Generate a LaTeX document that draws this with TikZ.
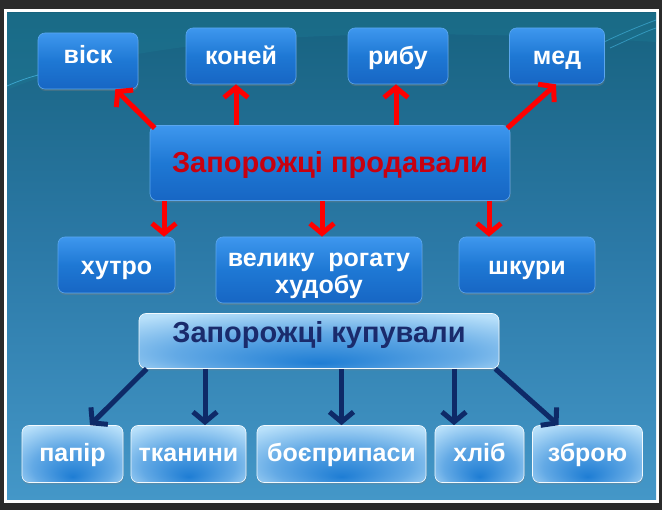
\documentclass[tikz,border=0pt]{standalone}
\usepackage{fontspec}
\setmainfont{Liberation Sans}
\usetikzlibrary{arrows.meta,shadows,positioning}

\definecolor{framegray}{HTML}{2B2B2B}
\definecolor{bgtop}{HTML}{17627F}
\definecolor{bgmid}{HTML}{2C7AA8}
\definecolor{bgbot}{HTML}{4497C8}
\definecolor{bgteal}{HTML}{1F8098}
\definecolor{boxtop}{HTML}{3E97EE}
\definecolor{boxmid}{HTML}{1E78D4}
\definecolor{boxbot}{HTML}{1766C4}
\definecolor{boxedge}{HTML}{5AA6EE}
\definecolor{lightmid}{HTML}{1E7DD4}
\definecolor{lightedge}{HTML}{B8E0FA}
\definecolor{sellred}{HTML}{FF0000}
\definecolor{selltext}{HTML}{C8000F}
\definecolor{buynavy}{HTML}{0E2A68}
\definecolor{buytext}{HTML}{1A2B6C}

% light boxes: dark spot low in the middle
\pgfdeclareradialshading{lightshade}{\pgfpoint{0bp}{-20bp}}{%
  color(0bp)=(lightmid); color(20bp)=(lightmid!55!lightedge);
  color(36bp)=(lightedge); color(50bp)=(lightedge)}

\begin{document}
\begin{tikzpicture}[x=1pt,y=-1pt,
    darkbox/.style={rectangle,rounded corners=7pt,draw=boxedge,line width=0.6pt,
      top color=boxtop,bottom color=boxbot,middle color=boxmid,
      drop shadow={shadow xshift=0.5pt,shadow yshift=-2pt,opacity=0.35},
      text=white,font=\bfseries\fontsize{25}{26}\selectfont,
      text height=21pt,text depth=3pt},
    lightbox/.style={rectangle,rounded corners=7pt,draw=white!85!lightedge,line width=0.6pt,
      shading=lightshade,
      drop shadow={shadow xshift=0.5pt,shadow yshift=-2pt,opacity=0.3},
      text=white,font=\bfseries\fontsize{25}{26}\selectfont,
      text height=20pt,text depth=4pt},
    sellarrow/.style={color=sellred,line width=5pt,-{Straight Barb[length=10pt,width=24pt]}},
    buyarrow/.style={color=buynavy,line width=5pt,-{Straight Barb[length=10pt,width=24pt]}}]

    \useasboundingbox (0,0) rectangle (662,510);
    % screen frame and slide background
    \fill[framegray] (0,0) rectangle (662,510);
    \fill[white] (4,9) rectangle (659,503);
    \shade[top color=bgtop,bottom color=bgbot,middle color=bgmid] (7,13) rectangle (656,500);
    \fill[bgteal,opacity=0.3] (7,13) -- (7,90) .. controls (120,42) and (320,22) .. (656,42) -- (656,13) -- cycle;
    \draw[cyan!70!white,opacity=0.6,line width=0.8pt] (7,86) .. controls (25,78) and (40,74) .. (60,70);
    \draw[cyan!70!white,opacity=0.5,line width=0.8pt] (600,44) .. controls (620,34) and (640,26) .. (656,20);
    \draw[cyan!70!white,opacity=0.5,line width=0.8pt] (610,48) .. controls (628,40) and (644,32) .. (656,28);

    % what they sold
    \node [darkbox, minimum width=100, minimum height=56, text depth=15pt](1) at (88,61){віск};
    \node [darkbox, minimum width=110, minimum height=56](2) at (241,56){коней};
    \node [darkbox, minimum width=100, minimum height=56](3) [right of=2, node distance=157pt]{рибу};
    \node [darkbox, minimum width=95, minimum height=56](4) [right of=3, node distance=159pt]{мед};

    \node [darkbox, minimum width=360, minimum height=75, text=selltext,
      font=\bfseries\fontsize{29}{33}\selectfont, text height=24pt, text depth=4pt](5) at (330,163){Запорожці продавали};

    \node [darkbox, minimum width=117, minimum height=56, text height=22pt, text depth=2pt](6) at (116.5,265){хутро};
    \node [darkbox, minimum width=206, minimum height=66, text height=32pt, text depth=10pt](7) at (319,270)
      {\begin{tabular}{@{}c@{}}велику\ \ рогату\\худобу\end{tabular}};
    \node [darkbox, minimum width=136, minimum height=56, text height=22pt, text depth=2pt](8) at (527,265){шкури};

    % what they bought
    \node [lightbox, minimum width=360, minimum height=55, text=buytext,
      font=\bfseries\fontsize{29}{33}\selectfont, text height=24pt, text depth=20pt](9) at (319,341){Запорожці купували};

    \node [lightbox, minimum width=101, minimum height=57](10) at (72.5,454){папір};
    \node [lightbox, minimum width=115, minimum height=57](11) [right of=10, node distance=116pt]{тканини};
    \node [lightbox, minimum width=169, minimum height=57](12) [right of=11, node distance=153pt]{боєприпаси};
    \node [lightbox, minimum width=89, minimum height=57](13) [right of=12, node distance=138pt]{хліб};
    \node [lightbox, minimum width=110, minimum height=57](14) [right of=13, node distance=108pt]{зброю};

    \coordinate (t2) at ([xshift=-5pt]2.south);
    \coordinate (t3) at ([xshift=-2pt]3.south);
    \coordinate (t6) at ([xshift=47.5pt]6.north);
    \coordinate (t7) at ([xshift=3pt]7.north);
    \coordinate (t8) at ([xshift=-38pt]8.north);
    \coordinate (t11) at ([xshift=16.5pt]11.north);
    \coordinate (t12) at (12.north);
    \coordinate (t13) at ([xshift=-25.5pt]13.north);

    \path[sellarrow]
        ([xshift=5pt,yshift=-3pt]5.north west) edge ([xshift=-23pt]1.south east)
        (5.north -| t2) edge (t2)
        (5.north -| t3) edge (t3)
        ([xshift=-3pt,yshift=-3pt]5.north east) edge ([xshift=-1pt]4.south)
        (5.south -| t6) edge (t6)
        (5.south -| t7) edge (t7)
        (5.south -| t8) edge (t8)
        ;

    \path[buyarrow]
        ([xshift=8pt]9.south west) edge ([xshift=17.5pt]10.north)
        (9.south -| t11) edge (t11)
        (9.south -| t12) edge (t12)
        (9.south -| t13) edge (t13)
        ([xshift=-4pt]9.south east) edge ([xshift=-29pt]14.north)
        ;
\end{tikzpicture}
\end{document}
